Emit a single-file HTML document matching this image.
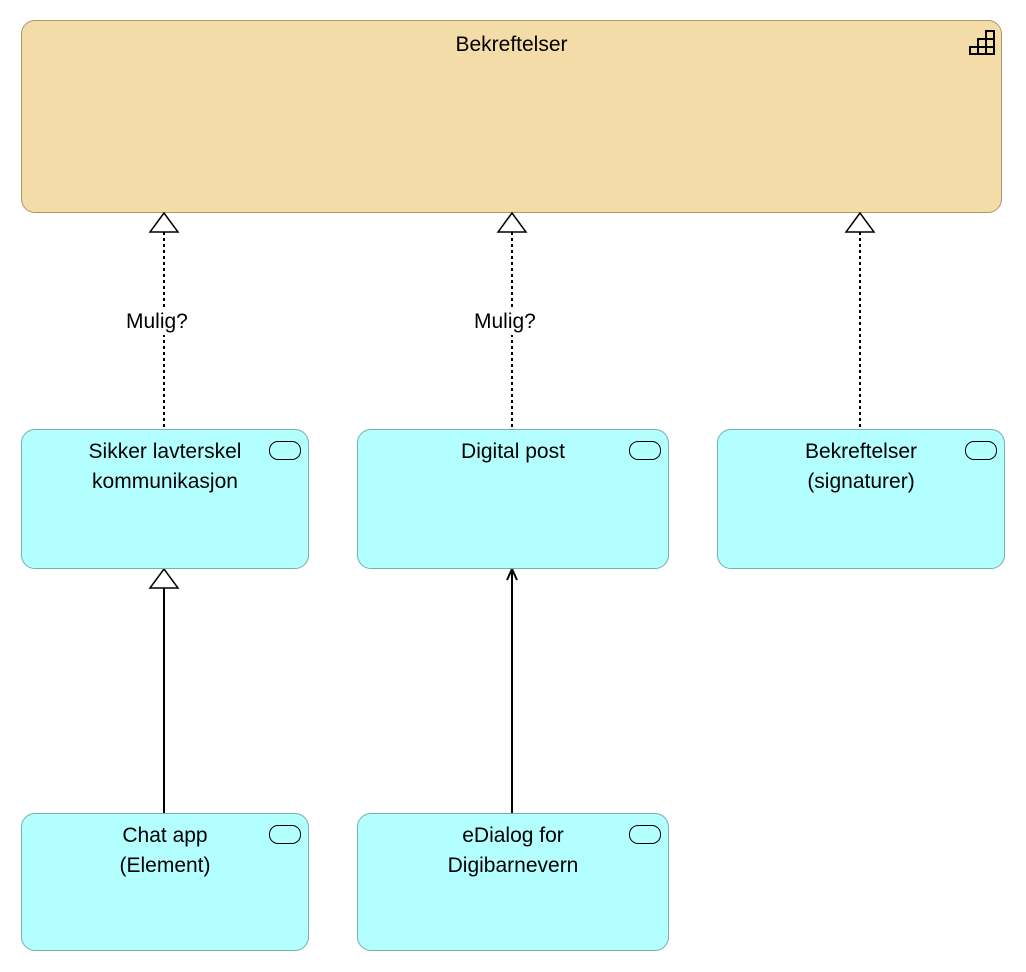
<!DOCTYPE html>
<html><head><style>
body{margin:0;width:1026px;height:972px;background:#fff;position:relative;font-family:"Liberation Sans",sans-serif;overflow:hidden}
.b{position:absolute;box-sizing:border-box;border-radius:14px;text-align:center;font-size:21px;line-height:30px;color:#000}
.y{background:#f4dca8;border:1.5px solid #a8986c}
.c{background:#b3ffff;border:1.5px solid #76afaf;padding-top:7px}
.s{position:absolute;right:7px;top:11px;width:32px;height:19px;border:1.5px solid #000;border-radius:9px;box-sizing:border-box}
.l{position:absolute;font-size:21px;background:#fff;line-height:26px}
</style></head><body>
<div class="b y" style="left:21px;top:20px;width:981px;height:193px;padding-top:9px">Bekreftelser</div>
<svg style="position:absolute;left:0;top:0" width="1026" height="972">
<g fill="none" stroke="#000" stroke-width="2">
<rect x="986" y="31" width="8" height="23"/>
<rect x="978" y="39" width="16" height="15"/>
<rect x="970" y="47" width="24" height="7"/>
<line x1="986" y1="39" x2="994" y2="39"/><line x1="986" y1="47" x2="994" y2="47"/>
</g>
<g stroke="#000" stroke-width="2" stroke-dasharray="3,3" fill="none">
<line x1="164" y1="232" x2="164" y2="429"/>
<line x1="512" y1="232" x2="512" y2="429"/>
<line x1="860" y1="232" x2="860" y2="429"/>
</g>
<g stroke="#000" stroke-width="2" fill="none">
<line x1="164" y1="588" x2="164" y2="813"/>
<line x1="512" y1="570" x2="512" y2="813"/>
<path d="M507 580 L512 569 L517 580"/>
</g>
<g stroke="#000" stroke-width="1.5" fill="#fff">
<path d="M164 213 L150 232 L178 232Z"/>
<path d="M512 213 L498 232 L526 232Z"/>
<path d="M860 213 L846 232 L874 232Z"/>
<path d="M164 569 L150 588 L178 588Z"/>
</g>
</svg>
<div class="l" style="left:126px;top:309px">Mulig?</div>
<div class="l" style="left:474px;top:309px">Mulig?</div>
<div class="b c" style="left:21px;top:429px;width:288px;height:140px">Sikker lavterskel<br>kommunikasjon<div class="s"></div></div>
<div class="b c" style="left:357px;top:429px;width:312px;height:140px">Digital post<div class="s"></div></div>
<div class="b c" style="left:717px;top:429px;width:288px;height:140px">Bekreftelser<br>(signaturer)<div class="s"></div></div>
<div class="b c" style="left:21px;top:813px;width:288px;height:138px">Chat app<br>(Element)<div class="s"></div></div>
<div class="b c" style="left:357px;top:813px;width:312px;height:138px">eDialog for<br>Digibarnevern<div class="s"></div></div>
</body></html>
